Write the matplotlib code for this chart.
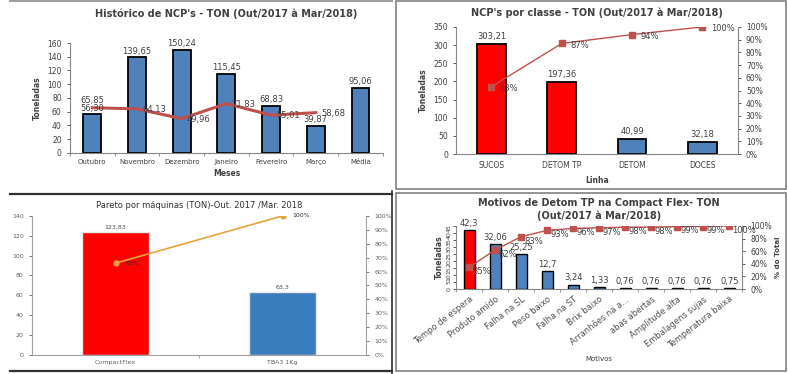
import matplotlib.pyplot as plt
from matplotlib.lines import Line2D
from matplotlib.patches import Rectangle
import numpy as np

plt.rcParams['font.family'] = ['DejaVu Sans']

# 1. histórico mensal
meses = ['Outubro', 'Novembro', 'Dezembro', 'Janeiro', 'Fevereiro', 'Março', 'Média']
ton_mes = [56.30, 139.65, 150.24, 115.45, 68.83, 39.87, 95.06]
linha_mes = [65.85, 64.13, 49.96, 71.83, 55.01, 58.68]

# 2. por classe
classes = ['SUCOS', 'DETOM TP', 'DETOM', 'DOCES']
ton_classe = [303.21, 197.36, 40.99, 32.18]
pct_classe = [0.53, 0.87, 0.94, 1.00]
cor_classe = ['#ff0000', '#ff0000', '#4f81bd', '#4f81bd']

# 3. por máquina
maquinas = ['CompactFlex', 'TBA3 1Kg']
ton_maq = [123.83, 63.3]
pct_maq = [0.66, 1.00]

# 4. motivos
motivos = ['Tempo de espera', 'Produto amido', 'Falha na SL', 'Peso baixo', 'Falha na ST',
           'Brix baixo', 'Arranhões na a...', 'abas abertas', 'Amplitude alta',
           'Embalagens sujas', 'Temperatura baixa']
ton_mot = [42.3, 32.06, 25.25, 12.7, 3.24, 1.33, 0.76, 0.76, 0.76, 0.76, 0.75]
pct_mot = [0.35, 0.62, 0.83, 0.93, 0.96, 0.97, 0.98, 0.98, 0.99, 0.99, 1.00]

def br(v, casas=2):
    return f'{v:.{casas}f}'.replace('.', ',')

def base(ax, gray='#868686'):
    for s in ['top', 'right']:
        ax.spines[s].set_visible(False)
    for s in ['left', 'bottom']:
        ax.spines[s].set_color(gray)
    ax.tick_params(colors='#404040', labelsize=5.5, length=2.5, width=0.6)

fig = plt.figure(figsize=(7.88, 3.74), dpi=100)

# molduras
fig.add_artist(Line2D([0.013, 0.497], [0.996, 0.996], color='#a0a0a0', lw=1.5))
fig.add_artist(Rectangle((0.503, 0.495), 0.494, 0.502, fill=False, ec='#808080', lw=1.2))
fig.add_artist(Rectangle((0.503, 0.007), 0.494, 0.478, fill=False, ec='#808080', lw=1.2))
for yy in [0.481, 0.009]:
    fig.add_artist(Line2D([0.013, 0.497], [yy, yy], color='#303030', lw=1.6))
fig.add_artist(Line2D([0.498, 0.498], [0.0, 0.49], color='#303030', lw=1.2))

# ---- 1
ax1 = fig.add_axes([0.0888, 0.591, 0.397, 0.294])
base(ax1)
x = np.arange(len(meses))
ax1.bar(x, ton_mes, width=0.4, color='#4f81bd', edgecolor='black', lw=1.3)
ax1.plot(x[:len(linha_mes)], linha_mes, color='#c0504d', lw=2.2)
ax1.set_ylim(0, 160)
ax1.set_yticks(range(0, 161, 20))
ax1.set_xlim(-0.5, 6.5)
ax1.set_xticks(x)
ax1.set_xticklabels(meses, fontsize=5)
ax1.tick_params(axis='x', length=0, pad=4)
ax1.set_xticks(np.arange(-0.5, 7, 1), minor=True)
ax1.tick_params(axis='x', which='minor', length=2.5, color='#868686')
for i, v in enumerate(ton_mes):
    ax1.text(i, v + 2, br(v), ha='center', va='bottom', fontsize=6, color='#404040')
for i, v in enumerate(linha_mes):
    if i == 0:
        ax1.text(i, v + 4, br(v), ha='center', va='bottom', fontsize=6, color='#404040')
    else:
        ax1.text(i + 0.12, v - 1, br(v), ha='left', va='center', fontsize=6, color='#404040')
ax1.set_title("Histórico de NCP's - TON (Out/2017 à Mar/2018)", fontsize=7, fontweight='bold',
              color='#404040', pad=19)
ax1.set_ylabel('Toneladas', fontsize=5.5, fontweight='bold', color='#404040', labelpad=4)
ax1.set_xlabel('Meses', fontsize=5.5, fontweight='bold', color='#404040', labelpad=3)

# ---- 2
ax2 = fig.add_axes([0.579, 0.588, 0.357, 0.34])
base(ax2)
x = np.arange(len(classes))
ax2.bar(x, ton_classe, width=0.41, color=cor_classe, edgecolor='black', lw=1.3)
ax2.set_ylim(0, 350)
ax2.set_yticks(range(0, 351, 50))
ax2.set_xlim(-0.5, 3.5)
ax2.set_xticks(x)
ax2.set_xticklabels(classes, fontsize=5.5)
ax2.tick_params(axis='x', length=0, pad=5)
for i, v in enumerate(ton_classe):
    ax2.text(i, v + 8, br(v), ha='center', va='bottom', fontsize=6, color='#404040')
ax2.set_title("NCP's por classe - TON (Out/2017 à Mar/2018)", fontsize=7, fontweight='bold',
              color='#404040', pad=8)
ax2.set_ylabel('Toneladas', fontsize=5.5, fontweight='bold', color='#404040', labelpad=4)
ax2.set_xlabel('Linha', fontsize=5.5, fontweight='bold', color='#404040', labelpad=4)
ax2b = ax2.twinx()
ax2b.plot(x, pct_classe, color='#c0504d', lw=1, marker='s', ms=4)
ax2b.set_ylim(0, 1)
ax2b.set_yticks(np.arange(0, 1.01, 0.1))
ax2b.set_yticklabels([f'{int(round(t * 100))}%' for t in np.arange(0, 1.01, 0.1)])
for s in ['top', 'left', 'bottom']:
    ax2b.spines[s].set_visible(False)
ax2b.spines['right'].set_color('#868686')
ax2b.tick_params(colors='#404040', labelsize=5.5, length=2.5, width=0.6)
for i, v in enumerate(pct_classe):
    ax2b.text(i + 0.12, v - 0.015, f'{int(round(v * 100))}%', ha='left', va='center',
              fontsize=6, color='#404040')

# ---- 3
ax3 = fig.add_axes([0.0406, 0.0508, 0.424, 0.372])
base(ax3, gray='#a0a0a0')
ax3.tick_params(colors='#606060', labelsize=4.5)
x = np.arange(len(maquinas))
ax3.bar(x, ton_maq, width=0.4, color=['#ff0000', '#3a7dbf'], edgecolor='#e8e8e8', lw=1)
ax3.set_ylim(0, 140)
ax3.set_yticks(range(0, 141, 20))
ax3.set_xlim(-0.5, 1.5)
ax3.set_xticks(x)
ax3.set_xticklabels(maquinas, fontsize=4.5)
ax3.tick_params(axis='x', length=0)
ax3.set_xticks([0.5], minor=True)
ax3.tick_params(axis='x', which='minor', length=2, color='#a0a0a0')
for i, v in enumerate(ton_maq):
    ax3.text(i, v + 2, br(v, 2 if i == 0 else 1), ha='center', va='bottom', fontsize=4.5,
             color='#505050')
ax3.set_title('Pareto por máquinas (TON)-Out. 2017 /Mar. 2018', fontsize=6, color='#303030', pad=6)
ax3b = ax3.twinx()
ax3b.plot(x, pct_maq, color='#e8a33d', lw=1.2, marker='o', ms=3.5)
ax3b.set_ylim(0, 1)
ax3b.set_yticks(np.arange(0, 1.01, 0.1))
ax3b.set_yticklabels([f'{int(round(t * 100))}%' for t in np.arange(0, 1.01, 0.1)])
for s in ['top', 'left', 'bottom']:
    ax3b.spines[s].set_visible(False)
ax3b.spines['right'].set_color('#a0a0a0')
ax3b.tick_params(colors='#606060', labelsize=4.5, length=2.5, width=0.6)
for i, v in enumerate(pct_maq):
    ax3b.text(i + 0.06, v, f'{int(round(v * 100))}%', ha='left', va='center', fontsize=4.5,
              color='#303030')

# ---- 4
ax4 = fig.add_axes([0.579, 0.227, 0.363, 0.169])
base(ax4)
x = np.arange(len(motivos))
cor_mot = ['#ff0000'] + ['#4f81bd'] * (len(motivos) - 1)
ax4.bar(x, ton_mot, width=0.42, color=cor_mot, edgecolor='black', lw=1)
ax4.set_ylim(0, 45)
ax4.set_yticks(range(0, 46, 5))
ax4.tick_params(axis='y', labelsize=4.5, labelrotation=90, pad=1)
ax4.set_xlim(-0.5, 10.5)
ax4.set_xticks(x)
ax4.set_xticklabels(motivos, fontsize=6, rotation=38, ha='right', rotation_mode='anchor',
                    color='#505050')
ax4.tick_params(axis='x', length=0, pad=4)
ax4.set_xticks(np.arange(-0.5, 11, 1), minor=True)
ax4.tick_params(axis='x', which='minor', length=2, color='#868686')
for i, v in enumerate(ton_mot):
    ax4.text(i, v + 1.5, br(v, 1 if i in (0, 3) else 2), ha='center', va='bottom', fontsize=6,
             color='#404040')
ax4.set_title('Motivos de Detom TP na Compact Flex- TON\n(Out/2017 à Mar/2018)', fontsize=7,
              fontweight='bold', color='#404040', pad=5, linespacing=1.3)
ax4.set_ylabel('Toneladas', fontsize=5.5, fontweight='bold', color='#404040', labelpad=2)
ax4.set_xlabel('Motivos', fontsize=5, color='#404040', labelpad=4)
ax4b = ax4.twinx()
ax4b.plot(x, pct_mot, color='#c0504d', lw=1, marker='s', ms=4)
ax4b.set_ylim(0, 1)
ax4b.set_yticks(np.arange(0, 1.01, 0.2))
ax4b.set_yticklabels([f'{int(round(t * 100))}%' for t in np.arange(0, 1.01, 0.2)])
for s in ['top', 'left', 'bottom']:
    ax4b.spines[s].set_visible(False)
ax4b.spines['right'].set_color('#868686')
ax4b.tick_params(colors='#404040', labelsize=5.5, length=2.5, width=0.6)
ax4b.set_ylabel('% do Total', fontsize=5, fontweight='bold', color='#404040', labelpad=2)
for i, v in enumerate(pct_mot):
    ax4b.text(i + 0.12, v - 0.07, f'{int(round(v * 100))}%', ha='left', va='center',
              fontsize=6, color='#404040')

fig.savefig('out.png', dpi=100)
